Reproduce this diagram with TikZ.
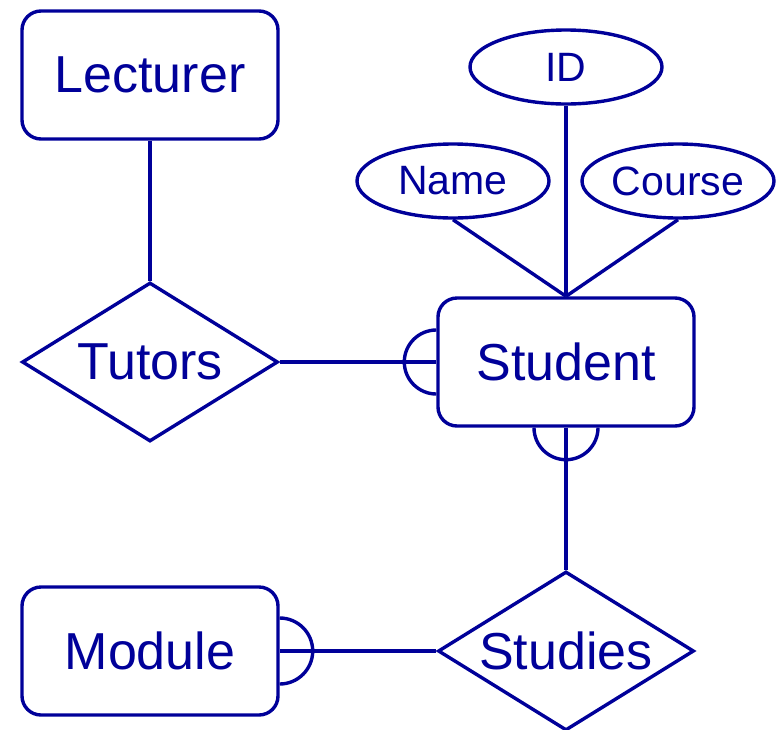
\documentclass[tikz,border=0pt]{standalone}
\usepackage{fontspec}
\setmainfont{Liberation Sans}
\usepackage{tikz}
\usetikzlibrary{shapes,arrows}
\definecolor{erblue}{RGB}{0,0,153}

\begin{document}
\begin{tikzpicture}[x=1pt,y=1pt,line width=3.4pt,color=erblue,
    entity/.style={draw,rectangle,rounded corners=19pt,minimum width=256pt,minimum height=128pt,inner sep=0pt,font=\fontsize{52}{62}\selectfont},
    relship/.style={draw,diamond,aspect=1.6,minimum width=256pt,minimum height=159pt,inner sep=0pt,font=\fontsize{52}{62}\selectfont},
    attrib/.style={draw,ellipse,minimum width=192pt,minimum height=74pt,inner sep=0pt,font=\fontsize{41}{49}\selectfont}]
     \useasboundingbox (0,0) rectangle (777,-729);
     \node [entity] (lecturer) at (150,-75) {Lecturer};
     \node [relship] (tutors) at (150,-362) {Tutors};
     \node [entity] (student) at (566,-362) {Student};
     \node [relship] (studies) at (566,-651) {Studies};
     \node [entity] (module) at (150,-651) {Module};
     \node [attrib] (id) at (566,-67) {ID};
     \node [attrib] (name) at (453,-181) {Name};
     \node [attrib] (course) at (678,-181) {Course};
     \draw (lecturer) -- (tutors);
     \draw (tutors) -- (student);
     \draw (student) -- (studies);
     \draw (studies) -- (module);
     \draw (id.south) -- (student.north);
     \draw (name.south) -- (student.north);
     \draw (course.south) -- (student.north);
     % semicircles on the many side
     \draw ([yshift=32pt]student.west) arc [start angle=90,end angle=270,radius=32pt];
     \draw ([xshift=-32pt]student.south) arc [start angle=180,end angle=360,radius=32pt];
     \draw ([yshift=33pt]module.east) arc [start angle=90,end angle=-90,radius=33pt];
\end{tikzpicture}
\end{document}
